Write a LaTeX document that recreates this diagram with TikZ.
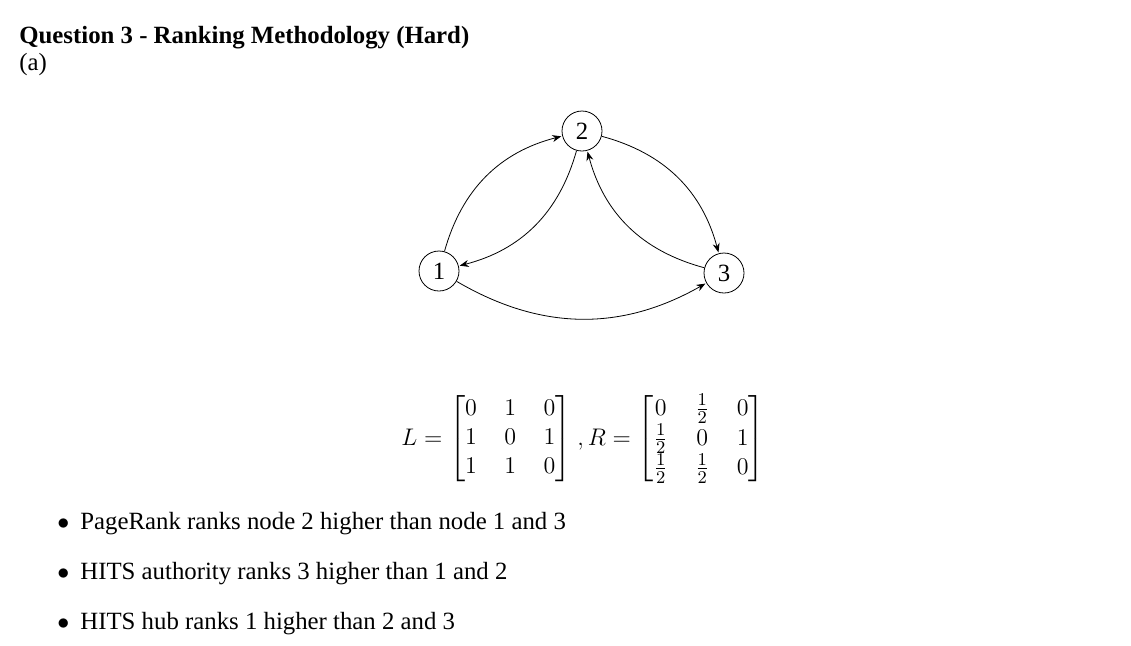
\documentclass[tikz,border=0pt]{standalone}
\usepackage{amsmath}
\usepackage{fontspec}
\setmainfont{Liberation Serif}
\usetikzlibrary{arrows.meta}
\begin{document}
\begin{tikzpicture}[x=0.5pt,y=-0.5pt,
  font=\fontsize{12.4}{14.5}\selectfont,
  vertex/.style={draw, circle, minimum size=20pt, inner sep=0pt, line width=0.4pt},
  link/.style={-{Stealth[length=4.5pt,width=3.5pt]}, line width=0.4pt, shorten >=0.5pt},
  txt/.style={anchor=base west, inner sep=0pt}]
\useasboundingbox (0,0) rectangle (1131,645);
\node[txt] (title) at (19,43) {\textbf{Question 3 - Ranking Methodology (Hard)}};
\node[txt] (part) at (19,70) {(a)};
\node[vertex] (n1) at (439,271) {1};
\node[vertex] (n2) at (582,131) {2};
\node[vertex] (n3) at (724,273) {3};
\draw[link] (n1) to[bend left=30] (n2);
\draw[link] (n2) to[bend left=30] (n1);
\draw[link] (n2) to[bend left=30] (n3);
\draw[link] (n3) to[bend left=30] (n2);
\draw[link] (n1) to[bend right=30] (n3);
\node[txt] (matL) at (401,445) {$L = {\setlength{\arraycolsep}{6.9pt}\begin{bmatrix} 0 & 1 & 0\\ 1 & 0 & 1\\ 1 & 1 & 0\end{bmatrix}}$};
\node[txt] (matR) at (577,445) {$, R = {\setlength{\arraycolsep}{6.9pt}\begin{bmatrix} 0 & \frac12 & 0\\ \frac12 & 0 & 1\\ \frac12 & \frac12 & 0\end{bmatrix}}$};
\node[txt] (b1) at (57,529) {$\bullet$};
\node[txt] (t1) at (80,529) {PageRank ranks node 2 higher than node 1 and 3};
\node[txt] (b2) at (57,579) {$\bullet$};
\node[txt] (t2) at (80,579) {HITS authority ranks 3 higher than 1 and 2};
\node[txt] (b3) at (57,629) {$\bullet$};
\node[txt] (t3) at (80,629) {HITS hub ranks 1 higher than 2 and 3};
\end{tikzpicture}
\end{document}
